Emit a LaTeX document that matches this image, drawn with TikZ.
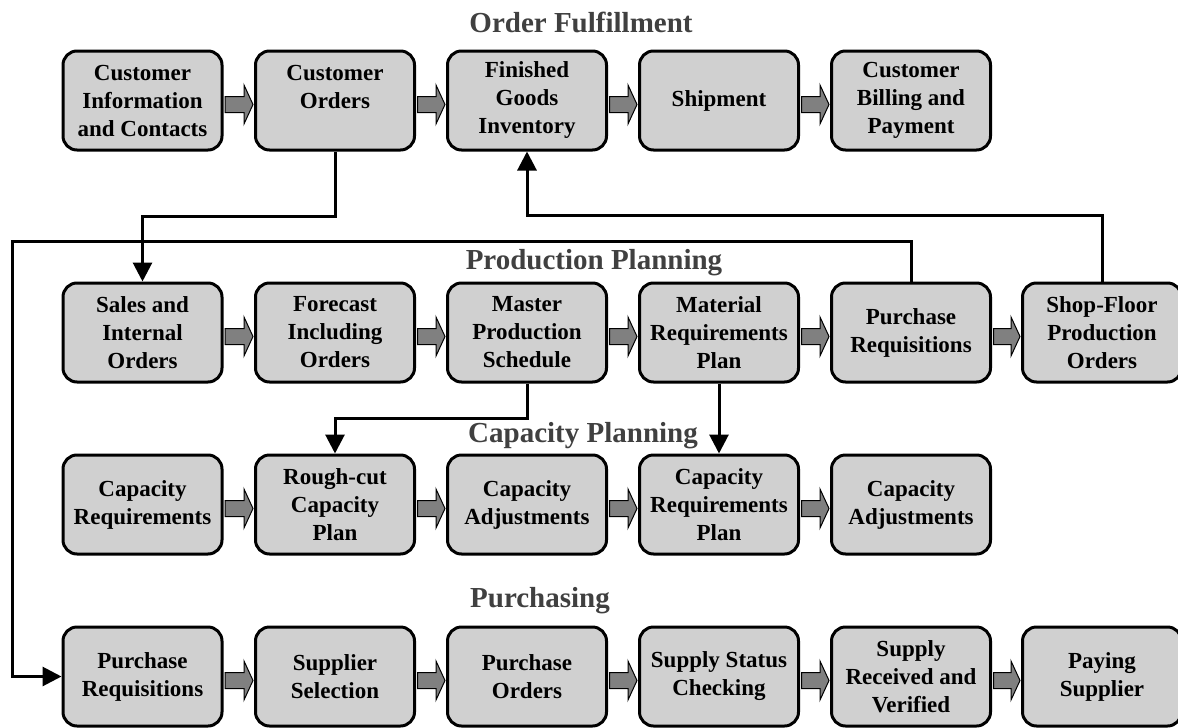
\documentclass[tikz,border=0pt]{standalone}
\usepackage{fontspec}
\setmainfont{Liberation Serif}
\usetikzlibrary{arrows.meta,calc}
\definecolor{boxfill}{RGB}{208,208,208}
\definecolor{arrowfill}{RGB}{128,128,128}
\definecolor{titlegray}{RGB}{64,64,64}
\newcommand\fatarr[2]{%
  \path[fatarrow] let \p1=($(#1.east)+(0,4)$), \p2=(#2.west) in
    (\x1+1.5pt,\y1+8pt) -- (\x2-10pt,\y1+8pt) -- (\x2-10pt,\y1+19.5pt) -- (\x2-1pt,\y1)
    -- (\x2-10pt,\y1-19.5pt) -- (\x2-10pt,\y1-8pt) -- (\x1+1.5pt,\y1-8pt) -- cycle;}
\begin{document}
\begin{tikzpicture}[x=1pt,y=-1pt,
  box/.style={draw=black, line width=3pt, fill=boxfill, rounded corners=14pt,
    minimum width=159pt, minimum height=99pt, inner sep=0pt, align=center,
    font=\fontsize{23}{28}\selectfont\bfseries},
  heading/.style={anchor=base, text=titlegray, inner sep=0pt,
    font=\fontsize{29}{34}\selectfont\bfseries},
  conn/.style={draw=black, line width=3pt},
  connarrow/.style={conn, -{Triangle[length=19pt,width=19pt]}},
  fatarrow/.style={fill=arrowfill, draw=black, line width=1pt, line join=miter}
]
\useasboundingbox[fill=white] (0,0) rectangle (1178,728);

% titles
\node[heading] (t1) at (581,32) {Order Fulfillment};
\node[heading] (t2) at (594,269) {Production Planning};
\node[heading] (t3) at (583,442) {Capacity Planning};
\node[heading] (t4) at (540,607) {Purchasing};

% row 1
\node[box] (ci) at (142.5,100.5) {Customer\\Information\\and Contacts};
\node[box] (co) at (335,100.5) {Customer\\Orders\\\mbox{}};
\node[box] (fg) at (527,100.5) {Finished\\Goods\\Inventory};
\node[box] (sh) at (719,100.5) {Shipment};
\node[box] (cb) at (911,100.5) {Customer\\Billing and\\Payment};

% row 2
\node[box] (si) at (142.5,332.5) {Sales and\\Internal\\Orders};
\node[box] (fi) at (335,332.5) {Forecast\\Including\\Orders};
\node[box] (mps) at (527,332.5) {Master\\Production\\Schedule};
\node[box] (mrp) at (719,332.5) {Material\\Requirements\\Plan};
\node[box] (pr) at (911,332.5) {Purchase\\Requisitions};
\node[box] (sf) at (1102,332.5) {Shop-Floor\\Production\\Orders};

% row 3
\node[box] (cr) at (142.5,504.5) {Capacity\\Requirements};
\node[box] (rc) at (335,504.5) {Rough-cut\\Capacity\\Plan};
\node[box] (caa) at (527,504.5) {Capacity\\Adjustments};
\node[box] (crp) at (719,504.5) {Capacity\\Requirements\\Plan};
\node[box] (cab) at (911,504.5) {Capacity\\Adjustments};

% row 4
\node[box] (pq) at (142.5,676.5) {Purchase\\Requisitions};
\node[box] (ss) at (335,676.5) {Supplier\\Selection};
\node[box] (po) at (527,676.5) {Purchase\\Orders};
\node[box] (ssc) at (719,676.5) {Supply Status\\Checking};
\node[box] (sr) at (911,676.5) {Supply\\Received and\\Verified};
\node[box] (ps) at (1102,676.5) {Paying\\Supplier};

% gray flow arrows
\fatarr{ci}{co}\fatarr{co}{fg}\fatarr{fg}{sh}\fatarr{sh}{cb}
\fatarr{si}{fi}\fatarr{fi}{mps}\fatarr{mps}{mrp}\fatarr{mrp}{pr}\fatarr{pr}{sf}
\fatarr{cr}{rc}\fatarr{rc}{caa}\fatarr{caa}{crp}\fatarr{crp}{cab}
\fatarr{pq}{ss}\fatarr{ss}{po}\fatarr{po}{ssc}\fatarr{ssc}{sr}\fatarr{sr}{ps}

% connectors
\coordinate (k1) at (335,216);
\coordinate (k2) at (12,241);
\coordinate (k3) at (1102,215);
\coordinate (k4) at (527,418);
\draw[connarrow] (co.south) -- (k1) -| (si.north);
\draw[connarrow] (pr.north) |- (k2) |- (pq.west);
\draw[connarrow] (sf.north) -- (k3) -| (fg.south);
\draw[connarrow] (mps.south) -- (k4) -| (rc.north);
\draw[connarrow] (mrp.south) -- (crp.north);
\end{tikzpicture}
\end{document}
